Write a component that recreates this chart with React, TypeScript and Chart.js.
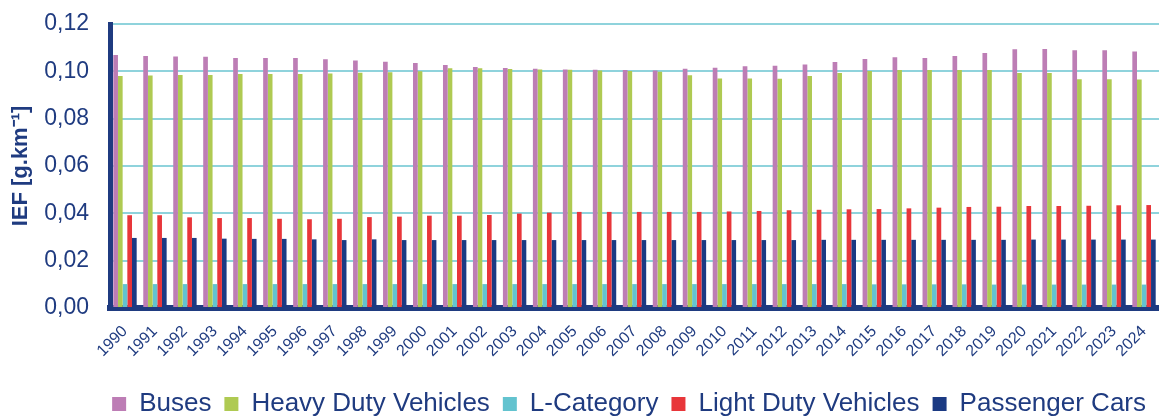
import { useEffect, useRef } from 'react';
import { Chart, registerables } from 'chart.js';

Chart.register(...registerables);

const years = [
  '1990', '1991', '1992', '1993', '1994', '1995', '1996', '1997', '1998', '1999',
  '2000', '2001', '2002', '2003', '2004', '2005', '2006', '2007', '2008', '2009',
  '2010', '2011', '2012', '2013', '2014', '2015', '2016', '2017', '2018', '2019',
  '2020', '2021', '2022', '2023', '2024',
];

const buses = [
  0.1069, 0.1065, 0.1063, 0.1062, 0.1056, 0.1056, 0.1056, 0.1051, 0.1046, 0.1041,
  0.1035, 0.1027, 0.1018, 0.1014, 0.1011, 0.1008, 0.1007, 0.1006, 0.1004, 0.1011,
  0.1015, 0.1021, 0.1024, 0.1029, 0.1039, 0.1052, 0.1059, 0.1056, 0.1065, 0.1077,
  0.1093, 0.1094, 0.1089, 0.1089, 0.1084,
];

const heavyDuty = [
  0.0980, 0.0982, 0.0984, 0.0984, 0.0989, 0.0989, 0.0989, 0.0991, 0.0994, 0.0996,
  0.1000, 0.1013, 0.1013, 0.1010, 0.1008, 0.1007, 0.1004, 0.1001, 0.0998, 0.0983,
  0.0970, 0.0970, 0.0969, 0.0980, 0.0993, 0.1001, 0.1006, 0.1006, 0.1006, 0.1006,
  0.0993, 0.0993, 0.0967, 0.0967, 0.0966,
];

const lCategory = [
  0.0101, 0.0101, 0.0101, 0.0101, 0.0101, 0.0101, 0.0101, 0.0101, 0.0101, 0.0101,
  0.0101, 0.0101, 0.0101, 0.0101, 0.0101, 0.0101, 0.0101, 0.0101, 0.0101, 0.0101,
  0.0101, 0.0101, 0.0101, 0.0101, 0.0101, 0.0100, 0.0100, 0.0100, 0.0100, 0.0099,
  0.0099, 0.0099, 0.0099, 0.0099, 0.0099,
];

const lightDuty = [
  0.0392, 0.0392, 0.0383, 0.0380, 0.0380, 0.0377, 0.0375, 0.0377, 0.0384, 0.0386,
  0.0390, 0.0390, 0.0393, 0.0399, 0.0403, 0.0406, 0.0406, 0.0406, 0.0406, 0.0406,
  0.0408, 0.0410, 0.0413, 0.0415, 0.0417, 0.0418, 0.0421, 0.0424, 0.0427, 0.0428,
  0.0431, 0.0431, 0.0432, 0.0434, 0.0435,
];

const passengerCars = [
  0.0296, 0.0296, 0.0296, 0.0293, 0.0292, 0.0292, 0.0290, 0.0287, 0.0290, 0.0287,
  0.0287, 0.0287, 0.0287, 0.0287, 0.0287, 0.0287, 0.0287, 0.0287, 0.0287, 0.0287,
  0.0287, 0.0287, 0.0287, 0.0288, 0.0288, 0.0288, 0.0288, 0.0288, 0.0288, 0.0288,
  0.0289, 0.0289, 0.0289, 0.0289, 0.0289,
];

const seriesNames = ['Buses', 'Heavy Duty Vehicles', 'L-Category', 'Light Duty Vehicles', 'Passenger Cars'];
const seriesColors = ['#bd7db5', '#afca52', '#63c3cf', '#e8363a', '#1b3a83'];
const yTickLabels = ['0,00', '0,02', '0,04', '0,06', '0,08', '0,10', '0,12'];
const yTitle = 'IEF [g.km⁻¹]';

const NAVY = '#1f3b80';
const FONT = "'Liberation Sans', Arial, Helvetica, sans-serif";

const zeroPadding = (s: any) => {
  s.paddingLeft = 0;
  s.paddingRight = 0;
  s.paddingTop = 0;
  s.paddingBottom = 0;
};

export default function App() {
  const ref = useRef<HTMLCanvasElement>(null);

  useEffect(() => {
    const canvas = ref.current;
    if (!canvas) return;
    const values = [buses, heavyDuty, lCategory, lightDuty, passengerCars];
    const chart = new Chart(canvas, {
      type: 'bar',
      data: {
        labels: years,
        datasets: seriesNames.map((name, i) => ({
          label: name,
          data: values[i],
          backgroundColor: seriesColors[i],
          borderWidth: 0,
          categoryPercentage: 0.78,
          barPercentage: 1.0,
        })),
      },
      options: {
        animation: false,
        responsive: false,
        devicePixelRatio: 1,
        font: { family: FONT },
        layout: { padding: { top: 24, left: 0, right: 0, bottom: -10 } },
        plugins: {
          tooltip: { enabled: false },
          legend: {
            position: 'bottom',
            align: 'end',
            labels: {
              boxWidth: 14,
              boxHeight: 14,
              padding: 13,
              color: NAVY,
              font: { family: FONT, size: 26 },
            },
          },
        },
        scales: {
          x: {
            grid: { display: false, drawTicks: false },
            border: { display: true, color: NAVY, width: 6 },
            ticks: {
              color: NAVY,
              font: { family: FONT, size: 16 },
              minRotation: 45,
              maxRotation: 45,
              autoSkip: false,
              padding: 14,
            },
            afterFit: (s: any) => {
              s.height = 70;
              zeroPadding(s);
            },
          },
          y: {
            min: 0,
            max: 0.12,
            grid: { color: '#8fd3dc', lineWidth: 2, drawTicks: false },
            border: { display: true, color: NAVY, width: 5 },
            ticks: {
              stepSize: 0.02,
              color: NAVY,
              padding: 21,
              font: { family: FONT, size: 23 },
              callback: (_v: any, i: number) => yTickLabels[i],
            },
            title: {
              display: true,
              text: yTitle,
              color: NAVY,
              font: { family: FONT, size: 22, weight: 'bold' },
              padding: { top: 8, bottom: 0 },
            },
            afterFit: (s: any) => {
              s.width = 110;
              zeroPadding(s);
            },
          },
        },
      },
    });
    return () => chart.destroy();
  }, []);

  return (
    <div style={{ position: 'fixed', left: 0, top: 0, width: 1159, height: 417, background: '#ffffff' }}>
      <canvas ref={ref} width={1159} height={417} style={{ display: 'block' }} />
    </div>
  );
}
